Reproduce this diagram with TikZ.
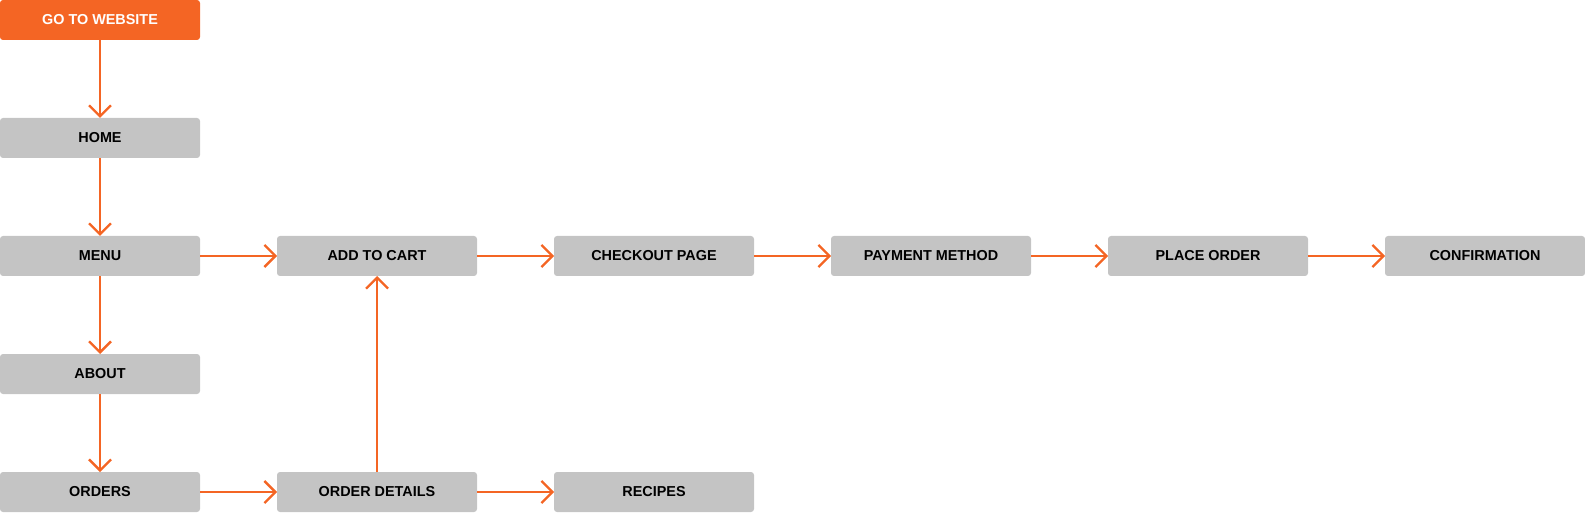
\documentclass[tikz,border=0pt]{standalone}
\usepackage{fontspec}
\setmainfont{Liberation Sans}
\usepackage{tikz}
\usetikzlibrary{arrows.meta,positioning}
\definecolor{flowOrange}{HTML}{F46524}
\definecolor{boxGray}{HTML}{C4C4C4}

\begin{document}
\begin{tikzpicture}[
    node distance=39pt and 38.5pt,
    every node/.style={font=\bfseries\fontsize{7.2pt}{9pt}\selectfont},
    page/.style={fill=boxGray,rounded corners=1.5pt,minimum width=100pt,minimum height=20pt,inner sep=0pt,outer sep=0pt,text=black},
    start/.style={page,fill=flowOrange,text=white},
    flow/.style={draw=flowOrange,line width=1.15pt,-{Straight Barb[length=5.5pt,width=11pt,line width=1.15pt]}}
  ]
  \useasboundingbox (0,0) rectangle (792.5pt,-256.5pt);
  \node[start,anchor=north west] (web) at (0,0) {GO TO WEBSITE};
  \node[page] (home) [below=of web] {HOME};
  \node[page] (menu) [below=of home] {MENU};
  \node[page] (about) [below=of menu] {ABOUT};
  \node[page] (orders) [below=of about] {ORDERS};
  \node[page] (cart) [right=of menu] {ADD TO CART};
  \node[page] (checkout) [right=of cart] {CHECKOUT PAGE};
  \node[page] (payment) [right=of checkout] {PAYMENT METHOD};
  \node[page] (place) [right=of payment] {PLACE ORDER};
  \node[page] (confirm) [right=of place] {CONFIRMATION};
  \node[page] (details) [right=of orders] {ORDER DETAILS};
  \node[page] (recipes) [right=of details] {RECIPES};
  \draw[flow] (web) -- (home);
  \draw[flow] (home) -- (menu);
  \draw[flow] (menu) -- (about);
  \draw[flow] (about) -- (orders);
  \draw[flow] (menu) -- (cart);
  \draw[flow] (cart) -- (checkout);
  \draw[flow] (checkout) -- (payment);
  \draw[flow] (payment) -- (place);
  \draw[flow] (place) -- (confirm);
  \draw[flow] (orders) -- (details);
  \draw[flow] (details) -- (recipes);
  \draw[flow] (details) -- (cart);
\end{tikzpicture}
\end{document}
